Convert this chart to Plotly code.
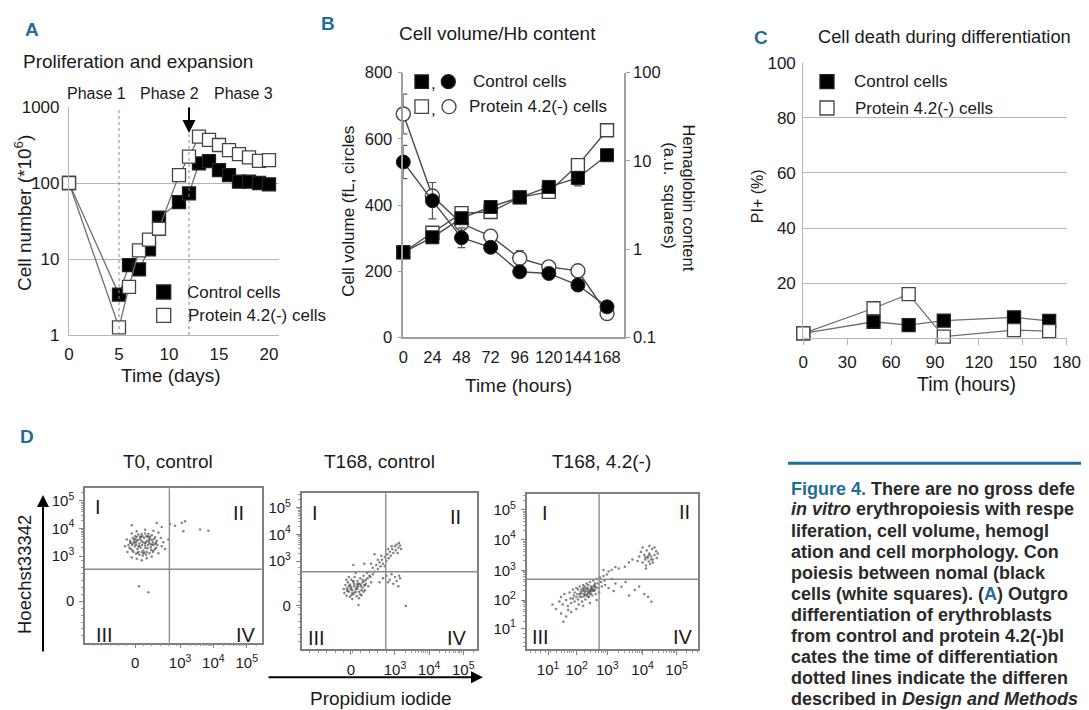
import plotly.graph_objects as go
import math

W, H = 1089, 710
OFF = 8  # page body margin of the browser
def X(px): return (px - OFF) / W
def Y(py): return 1 - (py - OFF) / H

FONT = "Liberation Sans, Arial, sans-serif"
TXT = "#1a1a1a"
BLUE = "#1f6e96"
GRID = "#b5b5b5"
LINE = "#6e6e6e"

# ---------------- data ----------------
# Panel A : proliferation (cells *10^6) vs days
a_days = [0, 5, 6, 7, 8, 9, 11, 12, 13, 14, 15, 16, 17, 18, 19, 20]
a_control = [100, 3.4, 8.3, 7.3, 13.4, 35, 56, 73, 181, 194, 148, 127, 104, 104, 100, 96]
a_prot = [100, 1.26, 4.3, 13, 18, 25, 127, 222, 407, 370, 316, 270, 240, 217, 196, 200]
a_xticks = [0, 5, 10, 15, 20]
a_yticks = [1, 10, 100, 1000]
a_phase_lines = [5, 12]

# Panel B : cell volume (fL) and hemoglobin content (a.u.)
b_hours = [0, 24, 48, 72, 96, 120, 144, 168]
b_vol_control = [530, 413, 301, 272, 198, 193, 158, 92]
b_vol_control_err = [50, 55, 30, 0, 10, 0, 0, 0]
b_vol_prot = [675, 427, 344, 306, 239, 213, 201, 72]
b_vol_prot_err = [60, 0, 0, 0, 23, 0, 0, 0]
b_hb_control = [0.92, 1.36, 2.24, 3.0, 3.86, 5.07, 6.4, 11.6]
b_hb_control_err = [0, 0, 0, 0, 0, 0, 1.2, 0]
b_hb_prot = [0.92, 1.53, 2.56, 2.63, 3.86, 4.45, 8.96, 22.3]
b_hb_ticks = [0.1, 1, 10, 100]

# Panel C : PI+ (%)
c_hours = [0, 48, 72, 96, 144, 168]
c_control = [1.8, 6.0, 4.8, 6.4, 7.6, 6.3]
c_prot = [1.8, 10.9, 16.0, 0.6, 3.0, 2.6]

# Panel D : flow cytometry events (display units, decades)
d1_x = [1.45,1.50,1.52,1.58,1.60,1.65,1.68,1.75,1.78,1.85,1.88,1.95,1.98,2.05,2.08,2.15,2.18,2.25,2.25,2.30,2.32,
        1.60,1.65,1.70,1.72,1.78,1.80,1.82,1.88,1.90,1.92,1.95,2.00,2.02,2.08,2.10,2.12,2.18,1.70,2.05,1.85,
        1.35,1.40,1.42,1.55,1.70,1.85,2.00,2.15,2.35,2.45,2.42,2.35,2.20,1.95,1.70,1.55,2.50,2.55,
        1.48,1.53,1.62,1.73,1.83,1.93,2.03,2.13,2.22,2.28,1.57,1.67,1.77,1.87,1.97,2.07,2.17,2.27,
        1.62,1.68,1.74,1.76,1.84,1.86,1.94,1.96,2.04,2.06,2.14,2.16,1.66,1.80,1.98,2.10,2.22,1.56,
        1.90,2.00,1.75,2.20,1.50,2.28,
        1.55,2.30,2.45,2.70,2.85,3.05,3.15,3.10,3.60,3.85,2.65,1.77,2.05]
d1_y = [3.40,3.55,3.25,3.65,3.15,3.72,3.08,3.78,3.05,3.80,3.02,3.82,3.05,3.80,3.10,3.75,3.15,3.68,3.25,3.55,3.40,
        3.45,3.35,3.55,3.25,3.45,3.62,3.30,3.50,3.20,3.65,3.38,3.55,3.28,3.45,3.62,3.32,3.50,3.70,3.68,3.15,
        3.35,3.60,3.15,2.95,2.90,2.85,2.92,2.98,3.10,3.35,3.65,3.85,3.92,3.95,3.90,3.82,3.50,3.25,
        3.30,3.48,3.60,3.12,3.70,3.12,3.72,3.22,3.62,3.30,3.20,3.50,3.35,3.72,3.48,3.58,3.40,3.45,
        3.52,3.42,3.58,3.35,3.55,3.40,3.48,3.30,3.40,3.52,3.42,3.58,3.62,3.70,3.72,3.70,3.42,3.40,
        3.10,3.15,3.15,3.20,3.48,3.48,
        4.12,4.20,4.05,4.16,4.10,4.20,4.26,3.90,3.96,3.92,3.60,1.90,1.68]

d2_x = [1.50,1.52,1.55,1.58,1.60,1.62,1.65,1.68,1.70,1.72,1.75,1.78,1.80,1.82,1.85,1.88,1.90,1.92,1.95,1.98,
        2.00,2.02,2.05,2.08,2.10,2.12,2.15,2.18,2.20,2.22,2.25,2.28,2.30,1.65,1.75,1.95,2.05,1.85,2.35,1.58,
        1.62,1.72,1.82,1.92,2.02,2.12,1.68,1.78,1.88,1.98,2.08,
        1.60,1.70,1.80,1.90,2.00,2.10,1.75,1.85,1.95,2.05,1.65,1.88,1.78,2.15,2.25,1.72,
        2.35,2.40,2.45,2.50,2.55,2.58,2.62,2.65,2.70,2.75,2.78,2.82,2.85,2.88,2.92,2.95,3.00,3.02,3.05,3.10,
        3.12,3.15,3.18,2.90,2.80,2.70,3.08,2.50,2.60,2.30,
        2.75,2.85,2.90,2.95,3.00,3.05,3.10,3.12,2.80,3.15,2.65,2.55,
        1.93,3.32,1.78,2.10,2.40]
d2_y = [1.95,1.80,2.10,1.70,1.98,2.20,1.85,1.65,2.05,2.30,1.90,1.75,2.15,2.40,1.95,1.68,2.25,2.05,1.85,2.35,
        2.12,1.72,2.00,2.45,2.25,1.90,2.15,2.55,2.35,2.05,2.60,2.40,2.20,2.40,1.58,1.60,2.30,2.55,2.50,2.30,
        1.88,1.98,1.82,2.15,1.90,2.08,2.12,2.22,2.02,1.75,1.85,
        1.90,1.95,2.05,1.95,2.05,2.10,1.80,1.85,2.15,2.20,2.05,2.12,2.25,2.30,2.45,1.72,
        2.75,2.60,2.85,2.70,2.95,2.80,3.05,2.90,3.15,3.00,3.25,3.10,3.35,3.20,3.45,3.30,3.55,3.40,3.62,3.50,
        3.68,3.58,3.45,3.55,3.45,2.80,3.30,3.05,3.20,2.90,
        2.45,2.30,2.50,2.15,2.40,2.25,2.05,2.45,2.20,2.35,2.35,2.20,
        1.35,1.31,2.85,2.90,3.25]

d3_x = [1.55,1.60,1.65,1.70,1.75,1.80,1.85,1.88,1.90,1.95,1.98,2.00,2.05,2.08,2.10,2.12,2.15,2.18,2.20,2.22,
        2.25,2.28,2.30,2.32,2.35,2.38,2.40,2.42,2.45,2.48,2.50,2.52,2.55,2.58,2.60,2.62,2.65,2.68,2.70,2.72,
        2.75,2.78,2.80,2.85,2.88,2.90,2.95,2.30,2.40,2.50,2.20,2.35,2.45,2.55,2.60,2.00,2.10,1.95,
        2.15,2.25,2.33,2.43,2.53,2.63,2.27,2.37,2.47,2.57,
        2.20,2.30,2.40,2.50,2.35,2.45,2.55,2.25,2.15,2.05,2.40,2.60,2.28,2.48,
        1.45,1.60,1.67,1.81,1.75,1.90,2.05,2.25,2.45,2.65,1.35,
        2.85,3.00,3.09,3.20,3.30,3.48,3.60,3.70,3.10,3.20,3.38,3.50,3.77,3.90,4.16,4.26,4.05,3.60,3.00,3.15,
        3.90,3.95,4.00,4.05,4.08,4.10,4.12,4.15,4.18,4.20,4.22,4.25,4.28,4.30,4.35,4.40,4.42,4.45,4.10,4.30,
        3.85,4.00,4.20,4.35,4.15,4.25,4.20,4.08]
d3_y = [1.95,2.10,1.85,2.20,2.00,1.80,2.25,2.05,1.90,2.35,2.15,1.95,2.40,2.20,2.02,1.85,2.45,2.28,2.10,1.95,
        2.50,2.35,2.18,2.02,2.55,2.40,2.25,2.10,2.60,2.45,2.30,2.15,2.65,2.50,2.35,2.20,2.70,2.55,2.40,2.25,
        2.75,2.60,2.45,2.80,2.65,2.50,2.85,2.45,2.50,2.40,2.35,2.30,2.20,2.45,2.55,2.25,2.35,2.05,
        2.20,2.30,2.38,2.28,2.36,2.42,2.12,2.20,2.34,2.30,
        2.22,2.28,2.35,2.38,2.15,2.30,2.32,2.40,2.12,2.10,2.12,2.45,2.20,2.22,
        1.70,1.55,1.28,1.67,1.45,1.60,1.70,1.80,1.90,2.00,1.85,
        3.00,2.95,3.00,3.10,3.05,3.11,3.25,3.35,2.70,2.55,2.44,2.60,2.33,2.45,2.11,1.94,2.20,2.15,2.40,2.30,
        3.45,3.60,3.25,3.50,3.35,3.15,3.65,3.40,3.28,3.55,3.20,3.45,3.70,3.35,3.50,3.62,3.40,3.55,3.05,3.25,
        3.30,3.75,3.80,3.75,3.45,3.35,3.50,3.42]

# ---------------- figure ----------------
fig = go.Figure()

def sq_trace(x, y, xa, ya, filled, size=13):
    return go.Scatter(
        x=x, y=y, xaxis=xa, yaxis=ya, mode="lines+markers", cliponaxis=False,
        line=dict(color=LINE, width=1.3),
        marker=dict(symbol="square", size=size, color="black" if filled else "white",
                    line=dict(color="#222" if filled else "#444", width=1.3)),
        showlegend=False, hoverinfo="skip")

fig.add_trace(sq_trace(a_days, a_control, "x", "y", True))
fig.add_trace(sq_trace(a_days, a_prot, "x", "y", False))

fig.add_trace(go.Scatter(x=b_hours, y=b_hb_prot, xaxis="x2", yaxis="y7", mode="lines+markers",
    cliponaxis=False, line=dict(color="#4a4a4a", width=1.4),
    marker=dict(symbol="square", size=13, color="white", line=dict(color="#444", width=1.4)),
    showlegend=False, hoverinfo="skip"))
fig.add_trace(go.Scatter(x=b_hours, y=b_hb_control, xaxis="x2", yaxis="y7", mode="lines+markers",
    cliponaxis=False, line=dict(color="#4a4a4a", width=1.4),
    error_y=dict(type="data", array=b_hb_control_err, color="#555", thickness=1.2, width=4),
    marker=dict(symbol="square", size=13, color="black", line=dict(color="#222", width=1)),
    showlegend=False, hoverinfo="skip"))
fig.add_trace(go.Scatter(x=b_hours, y=b_vol_prot, xaxis="x2", yaxis="y2", mode="lines+markers",
    cliponaxis=False, line=dict(color="#4a4a4a", width=1.4),
    error_y=dict(type="data", array=b_vol_prot_err, color="#555", thickness=1.2, width=4),
    marker=dict(symbol="circle", size=14, color="white", line=dict(color="#444", width=1.4)),
    showlegend=False, hoverinfo="skip"))
fig.add_trace(go.Scatter(x=b_hours, y=b_vol_control, xaxis="x2", yaxis="y2", mode="lines+markers",
    cliponaxis=False, line=dict(color="#4a4a4a", width=1.4),
    error_y=dict(type="data", array=b_vol_control_err, color="#555", thickness=1.2, width=4),
    marker=dict(symbol="circle", size=14, color="black", line=dict(color="#222", width=1)),
    showlegend=False, hoverinfo="skip"))

fig.add_trace(sq_trace(c_hours, c_control, "x3", "y3", True))
fig.add_trace(sq_trace(c_hours, c_prot, "x3", "y3", False))

for xs, ys, xa, ya in [(d1_x, d1_y, "x4", "y4"), (d2_x, d2_y, "x5", "y5"), (d3_x, d3_y, "x6", "y6")]:
    fig.add_trace(go.Scatter(x=xs, y=ys, xaxis=xa, yaxis=ya, mode="markers",
        marker=dict(size=2.5, color="#4d4d4d", opacity=0.7, line=dict(width=0)),
        showlegend=False, hoverinfo="skip"))

tf = dict(family=FONT, size=17, color=TXT)

layout = dict(
    template="none",
    width=W, height=H, margin=dict(l=0, r=0, t=0, b=0, pad=0, autoexpand=False), autosize=False,
    paper_bgcolor="white", plot_bgcolor="rgba(0,0,0,0)", showlegend=False,
    font=dict(family=FONT, color=TXT),
    xaxis=dict(domain=[X(69), X(279)], range=[0, 21], tickvals=a_xticks, showgrid=False,
               zeroline=False, showline=True, linecolor=GRID, linewidth=1.2, ticks="",
               tickfont=tf, ticklabelstandoff=3, anchor="y", tickangle=0, automargin=False),
    yaxis=dict(domain=[Y(335), Y(107)], type="log", range=[0, 3], tickvals=a_yticks,
               ticktext=[str(v) for v in a_yticks], showgrid=True, gridcolor=GRID, gridwidth=1.2,
               zeroline=False, showline=True, linecolor=GRID, linewidth=1.2, ticks="",
               tickfont=tf, ticklabelstandoff=5, anchor="x", automargin=False),
    xaxis2=dict(domain=[X(403.3), X(624)], range=[0, 182], tickvals=b_hours, showgrid=False,
                zeroline=False, showline=True, linecolor="#a0a0a0", linewidth=1.5, ticks="",
                tickfont=dict(family=FONT, size=16.5, color=TXT), ticklabelstandoff=4, anchor="y2",
                tickangle=0, automargin=False),
    yaxis2=dict(domain=[Y(337.3), Y(72.7)], range=[0, 800], tickvals=[0, 200, 400, 600, 800],
                showgrid=False, zeroline=False, showline=True, linecolor="#a0a0a0", linewidth=1.5,
                ticks="outside", ticklen=4, tickcolor="#a0a0a0",
                tickfont=dict(family=FONT, size=16.5, color=TXT), ticklabelstandoff=2, anchor="x2",
                automargin=False),
    yaxis7=dict(overlaying="y2", side="right", anchor="x2", type="log", range=[-1, 2],
                tickvals=b_hb_ticks, ticktext=["0.1", "1", "10", "100"], showgrid=False,
                zeroline=False, showline=True, linecolor="#a0a0a0", linewidth=1.5,
                ticks="outside", ticklen=4, tickcolor="#a0a0a0",
                tickfont=dict(family=FONT, size=16.5, color=TXT), ticklabelstandoff=0, automargin=False),
    xaxis3=dict(domain=[X(803.3), X(1066.7)], range=[0, 180], tickvals=[0, 30, 60, 90, 120, 150, 180],
                showgrid=False, zeroline=False, showline=True, linecolor=GRID, linewidth=1.2,
                ticks="outside", ticklen=6, tickcolor=GRID, tickfont=tf, ticklabelstandoff=2, anchor="y3",
                tickangle=0, automargin=False),
    yaxis3=dict(domain=[Y(338.3), Y(62.7)], range=[0, 100], tickvals=[20, 40, 60, 80, 100],
                showgrid=True, gridcolor=GRID, gridwidth=1.2, zeroline=False, showline=True,
                linecolor=GRID, linewidth=1.2, ticks="", tickfont=tf, ticklabelstandoff=3, anchor="x3",
                automargin=False),
)

def minor_vals(lin_lo, lin_hi, lin_step, dec_lo, dec_hi, hi_lim):
    vals = []
    v = lin_lo
    while v < lin_hi - 1e-9:
        vals.append(round(v, 3))
        v += lin_step
    for d in range(dec_lo, dec_hi + 1):
        for k in range(2, 10):
            p = d + math.log10(k)
            if p < hi_lim:
                vals.append(round(p, 3))
    return vals

sup = lambda n: "10<sup>%d</sup>" % n
dfont = dict(family=FONT, size=15, color=TXT)
d_specs = [
    dict(xd=(85, 261.7), yd=(642.7, 488.3), xr=[0.147, 5.45], yr=[-0.15, 5.46],
         xt=[1.65, 3, 4, 5], xtt=["0", sup(3), sup(4), sup(5)],
         yt=[1.36, 3, 4, 5], ytt=["0", sup(3), sup(4), sup(5)], qx=2.68, qy=2.52,
         xm=minor_vals(0.4, 3.0, 0.25, 3, 5, 5.45), ym=minor_vals(0.1, 3.0, 0.25, 3, 5, 5.46)),
    dict(xd=(301.7, 477.3), yd=(649.3, 493.3), xr=[0.27, 5.41], yr=[-0.31, 5.54],
         xt=[1.71, 3, 4, 5], xtt=["0", sup(3), sup(4), sup(5)],
         yt=[1.32, 3, 4, 5], ytt=["0", sup(3), sup(4), sup(5)], qx=2.73, qy=2.6,
         xm=minor_vals(0.5, 3.0, 0.25, 3, 5, 5.41), ym=minor_vals(0.0, 3.0, 0.25, 3, 5, 5.54)),
    dict(xd=(526.7, 698.3), yd=(649.3, 494), xr=[0.59, 5.64], yr=[0.36, 5.53],
         xt=[1.22, 2.06, 2.96, 4.0, 5.0], xtt=[sup(1), sup(2), sup(3), sup(4), sup(5)],
         yt=[1.06, 2.0, 2.98, 4.02, 5.0], ytt=[sup(1), sup(2), sup(3), sup(4), sup(5)], qx=2.72, qy=2.69,
         xm=minor_vals(0.7, 1.2, 0.15, 1, 5, 5.64), ym=minor_vals(0.45, 1.0, 0.15, 1, 5, 5.53)),
]
shapes = []
for i, s in enumerate(d_specs):
    n = i + 4
    xa, ya = "xaxis%d" % n, "yaxis%d" % n
    common = dict(showgrid=False, zeroline=False, showline=True, mirror=True, linecolor="#808080",
                  linewidth=1.5, ticks="outside", ticklen=4, tickcolor="#808080", tickfont=dfont,
                  automargin=False, tickangle=0)
    layout[xa] = dict(domain=[X(s["xd"][0]), X(s["xd"][1])], range=s["xr"], tickvals=s["xt"],
                      ticktext=s["xtt"], anchor="y%d" % n, ticklabelstandoff=2,
                      minor=dict(tickmode="array", tickvals=s["xm"], ticks="outside", ticklen=2,
                                 tickcolor="#999"), **common)
    layout[ya] = dict(domain=[Y(s["yd"][0]), Y(s["yd"][1])], range=s["yr"], tickvals=s["yt"],
                      ticktext=s["ytt"], anchor="x%d" % n, ticklabelstandoff=2,
                      minor=dict(tickmode="array", tickvals=s["ym"], ticks="outside", ticklen=2,
                                 tickcolor="#999"), **common)
    shapes.append(dict(type="line", xref="x%d" % n, yref="y%d domain" % n, x0=s["qx"], x1=s["qx"],
                       y0=0, y1=1, line=dict(color="#8c8c8c", width=1.4)))
    shapes.append(dict(type="line", xref="x%d domain" % n, yref="y%d" % n, x0=0, x1=1,
                       y0=s["qy"], y1=s["qy"], line=dict(color="#8c8c8c", width=1.4)))

for xv in a_phase_lines:
    shapes.append(dict(type="line", xref="x", yref="y domain", x0=xv, x1=xv, y0=0, y1=1,
                       line=dict(color="#8a8a8a", width=1, dash="dot")))

def sq(cx, cy, s, filled):
    return dict(type="rect", xref="paper", yref="paper", x0=X(cx - s / 2), x1=X(cx + s / 2),
                y0=Y(cy + s / 2), y1=Y(cy - s / 2), fillcolor="black" if filled else "white",
                line=dict(color="#222" if filled else "#444", width=1.3))
def circ(cx, cy, s, filled):
    d = sq(cx, cy, s, filled); d["type"] = "circle"; return d

shapes += [sq(163.7, 292, 14, True), sq(163.7, 315.4, 14, False),
           sq(421.7, 81.7, 13.5, True), circ(448.3, 81.7, 14, True),
           sq(421.7, 106.7, 13.5, False), circ(449, 106.7, 14, False),
           sq(827, 81.7, 14, True), sq(827, 108, 14, False)]
shapes.append(dict(type="line", xref="paper", yref="paper", x0=X(788), x1=1.0, y0=Y(463.3), y1=Y(463.3),
                   line=dict(color=BLUE, width=3)))
layout["shapes"] = shapes

anns = []
def ann(text, px, py, size, xanchor="center", color=TXT, angle=0, bold=False, family=FONT):
    anns.append(dict(text=("<b>%s</b>" % text) if bold else text, x=X(px), y=Y(py), xref="paper",
                     yref="paper", xanchor=xanchor, yanchor="middle", showarrow=False,
                     textangle=angle, font=dict(family=family, size=size, color=color)))

ann("A", 32, 29.5, 19, color=BLUE, bold=True)
ann("B", 328, 23.5, 19, color=BLUE, bold=True)
ann("C", 761, 37.5, 19, color=BLUE, bold=True)
ann("D", 27, 436, 19, color=BLUE, bold=True)

ann("Proliferation and expansion", 137.5, 61.5, 19)
ann("Phase 1", 96.7, 93.5, 16)
ann("Phase 2", 169.5, 93.5, 16)
ann("Phase 3", 243.8, 93.5, 16)
ann("Time (days)", 170.5, 375, 19)
ann("Cell number (*10<sup>6</sup>)", 23, 213, 19, angle=-90)
ann("Control cells", 185, 292, 17, xanchor="left")
ann("Protein 4.2(-) cells", 186, 315.5, 17, xanchor="left")
anns.append(dict(x=12, xref="x", y=Y(133), yref="paper", ax=0, ay=-27, text="", showarrow=True,
                 arrowhead=2, arrowsize=1.3, arrowwidth=2, arrowcolor="black"))

ann("Cell volume/Hb content", 497, 34, 19)
ann("Time (hours)", 518, 386, 19)
ann("Cell volume (fL, circles", 349, 211.7, 17, angle=-90)
ann("Hemaglobin content", 688, 197.5, 16.5, angle=90)
ann("(a.u.&nbsp;&nbsp;squares)", 669.7, 195, 16.5, angle=90)
ann(",", 433, 84, 17)
ann(",", 433, 109, 17)
ann("Control cells", 470.7, 81.7, 17, xanchor="left")
ann("Protein 4.2(-) cells", 466.7, 106.7, 17, xanchor="left")

ann("Cell death during differentiation", 944.7, 36.5, 18.3)
ann("Tim (hours)", 966.3, 384, 19.5)
ann("PI+ (%)", 757.5, 196.7, 16, angle=-90)
ann("Control cells", 851.7, 81.7, 17, xanchor="left")
ann("Protein 4.2(-) cells", 853.3, 108, 17, xanchor="left")

ann("T0, control", 168.3, 461.7, 19)
ann("T168, control", 379, 461.7, 19)
ann("T168, 4.2(-)", 601.7, 461.7, 19)
ann("Hoechst33342", 24, 575, 18.5, angle=-90)
ann("Propidium iodide", 380.8, 698, 19)
quads = [(98.3, 507.3, "I"), (238.3, 513, "II"), (104, 634.7, "III"), (246, 634.7, "IV"),
         (315, 513.3, "I"), (455, 516.7, "II"), (316, 638.3, "III"), (456.7, 638.3, "IV"),
         (545, 512.7, "I"), (684.3, 511.7, "II"), (540.7, 636.7, "III"), (683.3, 636.7, "IV")]
for qx, qy, t in quads:
    ann(t, qx, qy, 20)
anns.append(dict(x=X(43), y=Y(495), xref="paper", yref="paper", ax=0, ay=158, text="", showarrow=True,
                 arrowhead=2, arrowsize=1.2, arrowwidth=2, arrowcolor="black"))
anns.append(dict(x=X(483), y=Y(677.3), xref="paper", yref="paper", ax=-216, ay=0, text="", showarrow=True,
                 arrowhead=2, arrowsize=1.2, arrowwidth=2, arrowcolor="black"))

cb = "<span style='color:%s'>%%s</span>" % BLUE
cap_lines = [
    (cb % "Figure 4.") + " There are no gross defe",
    "<i>in vitro</i> erythropoiesis with respe",
    "liferation, cell volume, hemogl",
    "ation and cell morphology. Con",
    "poiesis between nomal (black",
    "cells (white squares). (" + (cb % "A") + ") Outgro",
    "differentiation of erythroblasts",
    "from control and protein 4.2(-)bl",
    "cates the time of differentiation",
    "dotted lines indicate the differen",
    "described in <i>Design and Methods</i>",
]
for i, line in enumerate(cap_lines):
    ann(line, 789, 488.5 + 21 * i, 18, xanchor="left", color="#2a2a2a", bold=True)

layout["annotations"] = anns
fig.update_layout(**layout)
fig.write_html("out.html")
